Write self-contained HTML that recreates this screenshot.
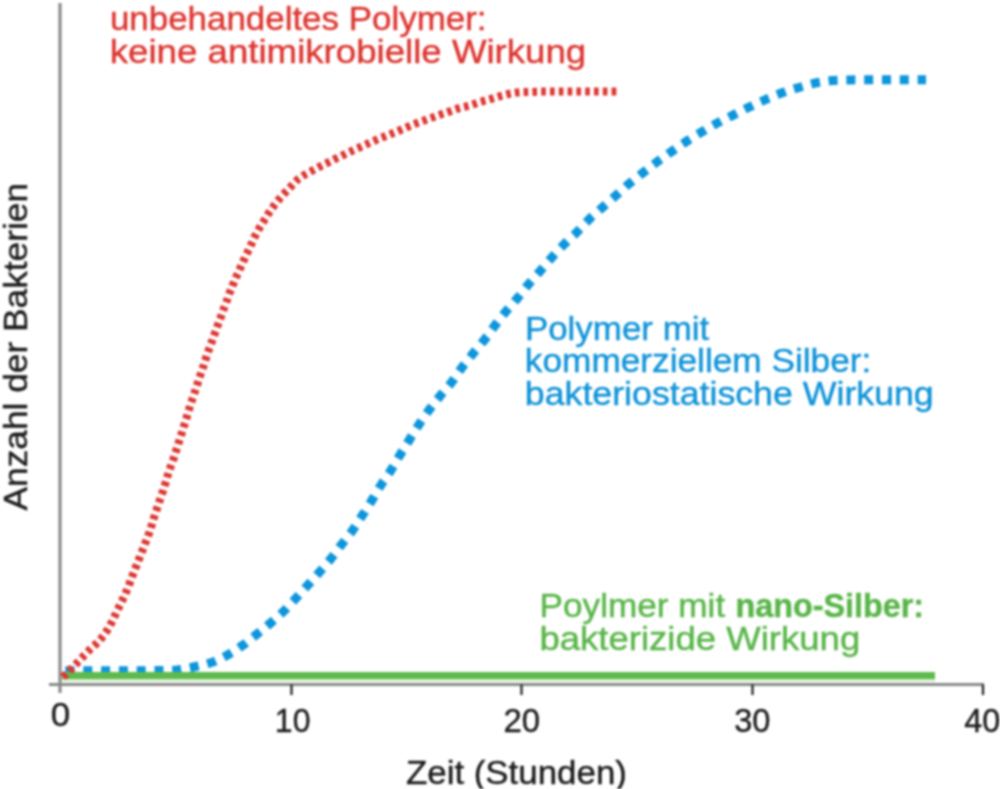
<!DOCTYPE html>
<html><head><meta charset="utf-8"><style>
html,body{margin:0;padding:0;background:#fff;width:1000px;height:789px;overflow:hidden}
svg{display:block}
#wrap{filter:blur(0.8px)}
text{font-family:"Liberation Sans",sans-serif}
</style></head><body><div id="wrap">
<svg width="1000" height="789" viewBox="0 0 1000 789">
<rect width="1000" height="789" fill="#fff"/>
<line x1="60" y1="3" x2="60" y2="693" stroke="#8a8a8a" stroke-width="3.2"/>
<line x1="49" y1="684.5" x2="984" y2="684.5" stroke="#8a8a8a" stroke-width="3.2"/>
<g stroke="#1c1c1c" stroke-width="2.2">
<line x1="291.5" y1="684.5" x2="291.5" y2="695"/>
<line x1="521.5" y1="684.5" x2="521.5" y2="695"/>
<line x1="752.5" y1="684.5" x2="752.5" y2="695"/>
<line x1="983" y1="684.5" x2="983" y2="695"/>
</g>
<path d="M63.5,670.8 C64.5,670.8 67.5,670.8 69.5,670.8 C71.5,670.8 73.5,670.8 75.5,670.8 C77.5,670.8 79.5,670.8 81.5,670.8 C83.5,670.8 85.5,670.8 87.5,670.8 C89.5,670.8 91.5,670.8 93.5,670.8 C95.5,670.8 97.5,670.8 99.5,670.8 C101.5,670.8 103.5,670.8 105.5,670.8 C107.5,670.8 109.5,670.8 111.5,670.8 C113.5,670.8 115.5,670.8 117.5,670.8 C119.5,670.8 121.5,670.8 123.5,670.8 C125.5,670.8 127.5,670.8 129.5,670.8 C131.5,670.7 133.5,670.7 135.5,670.7 C137.5,670.7 139.5,670.7 141.5,670.7 C143.5,670.7 145.5,670.7 147.5,670.6 C149.5,670.6 151.5,670.6 153.5,670.6 C155.5,670.6 157.5,670.6 159.5,670.6 C161.5,670.6 163.5,670.6 165.5,670.5 C167.5,670.5 169.5,670.6 171.5,670.5 C173.5,670.4 175.5,670.2 177.4,670.0 C179.4,669.7 181.4,669.3 183.4,669.0 C185.3,668.7 187.3,668.3 189.3,667.9 C191.2,667.5 193.2,667.2 195.2,666.7 C197.1,666.3 199.0,665.9 201.0,665.4 C202.9,664.9 204.9,664.5 206.8,664.0 C208.7,663.4 210.6,662.8 212.5,662.1 C214.4,661.4 216.2,660.6 218.0,659.8 C219.8,658.9 221.6,658.1 223.4,657.2 C225.2,656.3 227.0,655.3 228.7,654.3 C230.4,653.3 232.1,652.3 233.8,651.2 C235.5,650.1 237.2,649.1 238.8,648.0 C240.5,646.8 242.1,645.7 243.8,644.5 C245.4,643.4 246.9,642.1 248.5,640.9 C250.1,639.7 251.6,638.4 253.2,637.2 C254.8,635.9 256.3,634.7 257.9,633.4 C259.5,632.2 261.0,630.9 262.6,629.7 C264.1,628.4 265.7,627.2 267.2,625.9 C268.8,624.6 270.3,623.3 271.8,622.0 C273.4,620.7 274.8,619.4 276.3,618.1 C277.8,616.7 279.3,615.4 280.8,614.0 C282.2,612.7 283.7,611.3 285.1,609.9 C286.5,608.4 287.8,607.0 289.2,605.5 C290.6,604.0 291.9,602.6 293.3,601.1 C294.6,599.6 296.0,598.1 297.3,596.7 C298.7,595.2 300.0,593.7 301.4,592.2 C302.7,590.8 304.1,589.3 305.4,587.8 C306.8,586.3 308.1,584.9 309.4,583.4 C310.8,581.9 312.1,580.4 313.4,578.9 C314.8,577.4 316.1,575.9 317.4,574.4 C318.7,572.9 320.1,571.4 321.4,569.9 C322.7,568.4 324.0,566.9 325.3,565.4 C326.6,563.8 327.9,562.3 329.2,560.8 C330.5,559.2 331.7,557.7 332.9,556.1 C334.2,554.5 335.4,552.9 336.6,551.3 C337.8,549.7 338.9,548.1 340.1,546.5 C341.3,544.9 342.6,543.3 343.8,541.8 C345.0,540.2 346.3,538.6 347.5,537.0 C348.7,535.5 350.0,533.9 351.2,532.3 C352.4,530.7 353.5,529.1 354.6,527.4 C355.8,525.7 356.8,524.0 357.9,522.4 C359.0,520.7 360.1,519.0 361.1,517.3 C362.2,515.6 363.3,513.9 364.4,512.3 C365.4,510.6 366.5,508.9 367.6,507.2 C368.6,505.5 369.7,503.8 370.8,502.1 C371.8,500.4 372.8,498.7 373.9,497.0 C374.9,495.3 375.9,493.5 376.9,491.8 C377.9,490.1 378.9,488.3 380.0,486.6 C381.0,485.0 382.1,483.3 383.2,481.6 C384.4,480.0 385.5,478.3 386.7,476.7 C387.8,475.0 388.9,473.4 390.0,471.7 C391.1,470.0 392.1,468.3 393.2,466.6 C394.2,464.9 395.2,463.2 396.2,461.4 C397.2,459.7 398.2,458.0 399.2,456.3 C400.3,454.5 401.3,452.8 402.3,451.1 C403.4,449.4 404.4,447.7 405.5,446.0 C406.5,444.3 407.6,442.6 408.7,440.9 C409.7,439.2 410.8,437.5 411.8,435.8 C412.9,434.1 413.9,432.4 415.0,430.7 C416.1,429.0 417.1,427.3 418.2,425.7 C419.3,424.0 420.4,422.3 421.5,420.7 C422.7,419.0 423.8,417.4 424.9,415.8 C426.1,414.1 427.2,412.5 428.4,410.9 C429.6,409.2 430.8,407.6 432.0,406.1 C433.2,404.5 434.5,402.9 435.7,401.3 C437.0,399.8 438.2,398.2 439.5,396.7 C440.7,395.1 442.0,393.6 443.3,392.1 C444.6,390.6 446.0,389.1 447.3,387.5 C448.6,386.0 449.9,384.5 451.1,382.9 C452.3,381.4 453.5,379.8 454.7,378.1 C455.8,376.5 456.9,374.8 458.0,373.2 C459.1,371.5 460.3,369.9 461.4,368.2 C462.6,366.6 463.9,365.0 465.1,363.5 C466.3,361.9 467.6,360.3 468.8,358.8 C470.1,357.2 471.3,355.6 472.6,354.1 C473.8,352.5 475.1,351.0 476.4,349.5 C477.7,347.9 479.0,346.4 480.3,344.9 C481.5,343.4 482.8,341.8 484.1,340.3 C485.3,338.7 486.5,337.1 487.7,335.5 C488.9,333.9 490.0,332.2 491.2,330.6 C492.4,329.0 493.5,327.4 494.7,325.8 C495.9,324.2 497.1,322.6 498.4,321.0 C499.6,319.4 500.8,317.8 502.0,316.2 C503.3,314.7 504.5,313.1 505.8,311.6 C507.1,310.0 508.4,308.5 509.7,307.0 C511.0,305.5 512.4,304.1 513.7,302.6 C515.0,301.0 516.3,299.5 517.6,298.0 C518.9,296.5 520.1,294.9 521.4,293.3 C522.6,291.7 523.8,290.1 525.0,288.6 C526.3,287.0 527.5,285.4 528.8,283.9 C530.1,282.4 531.4,280.9 532.8,279.4 C534.1,277.9 535.4,276.4 536.8,274.9 C538.1,273.4 539.4,271.9 540.7,270.4 C542.0,268.9 543.3,267.4 544.6,265.9 C545.9,264.4 547.2,262.8 548.5,261.3 C549.8,259.8 551.1,258.3 552.5,256.8 C553.8,255.3 555.1,253.8 556.5,252.3 C557.8,250.8 559.2,249.4 560.5,247.9 C561.9,246.5 563.3,245.0 564.8,243.7 C566.2,242.3 567.7,240.9 569.1,239.5 C570.6,238.2 572.1,236.8 573.5,235.4 C575.0,234.1 576.4,232.7 577.8,231.2 C579.2,229.8 580.5,228.3 581.9,226.9 C583.3,225.4 584.6,223.9 586.0,222.5 C587.4,221.1 588.8,219.6 590.2,218.2 C591.7,216.9 593.2,215.6 594.7,214.2 C596.2,212.9 597.7,211.6 599.2,210.3 C600.7,208.9 602.2,207.6 603.7,206.3 C605.2,205.0 606.7,203.7 608.2,202.3 C609.7,201.0 611.2,199.7 612.7,198.4 C614.2,197.0 615.7,195.7 617.2,194.4 C618.6,193.0 620.1,191.7 621.6,190.3 C623.1,189.0 624.6,187.7 626.1,186.3 C627.6,185.0 629.1,183.8 630.7,182.5 C632.2,181.2 633.8,180.0 635.4,178.8 C636.9,177.5 638.5,176.3 640.1,175.0 C641.7,173.8 643.2,172.6 644.8,171.3 C646.4,170.1 648.0,168.9 649.5,167.7 C651.1,166.4 652.7,165.2 654.3,164.0 C655.9,162.8 657.5,161.6 659.1,160.4 C660.7,159.2 662.4,158.1 664.0,156.9 C665.6,155.8 667.2,154.6 668.9,153.4 C670.5,152.3 672.1,151.2 673.8,150.0 C675.4,148.9 677.1,147.7 678.7,146.6 C680.4,145.4 682.0,144.3 683.7,143.2 C685.3,142.1 687.0,141.0 688.7,139.9 C690.4,138.9 692.1,137.8 693.8,136.8 C695.5,135.7 697.2,134.7 698.9,133.7 C700.6,132.6 702.4,131.6 704.1,130.6 C705.8,129.6 707.5,128.6 709.2,127.5 C711.0,126.5 712.7,125.5 714.5,124.6 C716.2,123.6 718.0,122.7 719.8,121.8 C721.5,120.8 723.3,119.9 725.1,119.0 C726.9,118.2 728.7,117.3 730.5,116.4 C732.3,115.5 734.1,114.6 735.8,113.7 C737.6,112.8 739.4,111.9 741.2,111.0 C743.0,110.1 744.8,109.2 746.6,108.3 C748.4,107.5 750.2,106.6 752.0,105.8 C753.8,104.9 755.6,104.1 757.5,103.2 C759.3,102.4 761.1,101.6 762.9,100.8 C764.7,99.9 766.6,99.1 768.4,98.3 C770.2,97.6 772.1,96.8 773.9,96.0 C775.8,95.3 777.6,94.5 779.5,93.8 C781.4,93.1 783.3,92.4 785.1,91.8 C787.0,91.1 789.0,90.5 790.9,89.9 C792.8,89.3 794.7,88.7 796.6,88.2 C798.5,87.6 800.4,87.0 802.3,86.5 C804.3,85.9 806.2,85.4 808.1,84.8 C810.0,84.3 812.0,83.8 813.9,83.3 C815.9,82.9 817.8,82.6 819.8,82.2 C821.8,81.9 823.8,81.6 825.7,81.3 C827.7,81.1 829.7,80.8 831.7,80.6 C833.7,80.4 835.7,80.3 837.7,80.2 C839.7,80.1 841.7,80.1 843.7,80.0 C845.7,80.0 847.7,79.9 849.7,79.9 C851.7,79.8 853.7,79.8 855.7,79.8 C857.7,79.8 859.7,79.8 861.7,79.8 C863.7,79.8 865.7,79.8 867.7,79.8 C869.7,79.8 871.7,79.8 873.7,79.8 C875.7,79.8 877.7,79.8 879.7,79.8 C881.7,79.8 883.7,79.8 885.7,79.8 C887.7,79.8 889.7,79.8 891.7,79.8 C893.7,79.8 895.7,79.8 897.7,79.8 C899.7,79.8 901.7,79.8 903.7,79.8 C905.7,79.8 907.7,79.8 909.7,79.8 C911.7,79.8 913.7,79.8 915.6,79.8 C917.6,79.8 919.8,79.8 921.5,79.8 C923.2,79.8 925.3,79.8 926.0,79.8" fill="none" stroke="#0d96dc" stroke-width="9" stroke-dasharray="9 8.8" stroke-dashoffset="-2.0"/>
<line x1="62" y1="680.8" x2="935" y2="680.8" stroke="#d6f0cf" stroke-width="2"/>
<line x1="62" y1="675.6" x2="935" y2="675.6" stroke="#5fba4e" stroke-width="7.3"/>
<path d="M63.0,677.0 C63.7,676.3 66.0,674.3 67.4,673.0 C68.8,671.6 70.2,670.1 71.6,668.6 C73.0,667.2 74.3,665.7 75.7,664.3 C77.0,662.8 78.4,661.3 79.8,659.9 C81.2,658.4 82.6,657.0 84.0,655.6 C85.4,654.2 86.8,652.7 88.2,651.3 C89.6,649.9 91.0,648.5 92.5,647.1 C93.9,645.8 95.5,644.5 96.9,643.1 C98.3,641.7 99.7,640.2 101.0,638.7 C102.2,637.2 103.4,635.6 104.6,634.0 C105.8,632.4 106.9,630.7 108.0,629.0 C109.0,627.3 110.0,625.6 110.9,623.8 C111.9,622.1 112.7,620.2 113.6,618.4 C114.4,616.6 115.3,614.8 116.1,613.0 C117.0,611.2 117.9,609.4 118.7,607.6 C119.6,605.8 120.5,604.0 121.3,602.2 C122.2,600.4 123.1,598.6 124.0,596.8 C124.8,595.0 125.6,593.2 126.4,591.3 C127.2,589.5 127.9,587.6 128.7,585.8 C129.4,583.9 130.1,582.0 130.8,580.1 C131.5,578.3 132.2,576.4 132.9,574.5 C133.6,572.7 134.3,570.8 135.1,569.0 C135.8,567.1 136.6,565.2 137.3,563.4 C138.0,561.5 138.8,559.7 139.5,557.8 C140.2,555.9 140.9,554.1 141.7,552.2 C142.4,550.4 143.2,548.5 143.9,546.6 C144.6,544.8 145.3,542.9 146.1,541.0 C146.8,539.2 147.5,537.3 148.2,535.5 C149.0,533.6 149.7,531.7 150.3,529.9 C150.9,528.0 151.4,526.0 152.0,524.1 C152.5,522.2 153.1,520.3 153.7,518.4 C154.3,516.4 155.0,514.6 155.6,512.7 C156.3,510.8 156.9,508.9 157.5,507.0 C158.2,505.1 158.8,503.2 159.4,501.3 C160.1,499.4 160.8,497.5 161.4,495.6 C162.1,493.8 162.7,491.9 163.3,489.9 C163.9,488.0 164.5,486.1 165.1,484.2 C165.7,482.3 166.3,480.4 166.9,478.5 C167.4,476.6 167.9,474.6 168.5,472.7 C169.1,470.8 169.8,469.0 170.5,467.1 C171.1,465.2 171.9,463.4 172.6,461.5 C173.3,459.6 173.9,457.7 174.5,455.8 C175.1,453.9 175.7,452.0 176.3,450.1 C176.9,448.2 177.6,446.3 178.2,444.4 C178.8,442.5 179.4,440.6 180.0,438.6 C180.6,436.7 181.2,434.8 181.8,432.9 C182.4,431.0 183.0,429.1 183.6,427.2 C184.2,425.3 184.8,423.4 185.4,421.5 C186.0,419.6 186.6,417.7 187.1,415.7 C187.7,413.8 188.2,411.9 188.8,410.0 C189.4,408.1 190.0,406.1 190.6,404.2 C191.2,402.4 191.9,400.5 192.5,398.6 C193.2,396.7 193.9,394.8 194.5,392.9 C195.1,391.0 195.8,389.1 196.4,387.2 C197.0,385.3 197.6,383.4 198.2,381.5 C198.8,379.6 199.4,377.7 200.1,375.8 C200.7,373.9 201.4,372.0 202.1,370.1 C202.7,368.2 203.4,366.3 204.0,364.4 C204.6,362.6 205.2,360.6 205.8,358.7 C206.4,356.8 207.0,354.9 207.7,353.0 C208.3,351.1 209.0,349.3 209.7,347.4 C210.3,345.5 211.1,343.6 211.8,341.8 C212.4,339.9 213.1,338.0 213.8,336.1 C214.5,334.3 215.2,332.4 215.9,330.5 C216.6,328.6 217.2,326.7 217.9,324.9 C218.6,323.0 219.3,321.1 220.0,319.2 C220.7,317.3 221.4,315.5 222.1,313.6 C222.7,311.7 223.4,309.8 224.1,307.9 C224.8,306.1 225.5,304.2 226.2,302.3 C226.9,300.5 227.6,298.6 228.2,296.7 C228.9,294.8 229.6,292.9 230.3,291.1 C231.1,289.2 231.9,287.4 232.6,285.5 C233.4,283.7 234.1,281.8 234.9,280.0 C235.7,278.1 236.5,276.3 237.3,274.5 C238.2,272.7 239.0,270.9 239.8,269.0 C240.7,267.2 241.4,265.4 242.2,263.6 C243.1,261.7 243.9,259.9 244.7,258.1 C245.5,256.3 246.4,254.5 247.3,252.7 C248.2,250.9 249.0,249.1 249.9,247.3 C250.7,245.4 251.6,243.6 252.4,241.8 C253.2,240.0 254.0,238.2 254.9,236.4 C255.8,234.6 256.7,232.8 257.7,231.0 C258.6,229.3 259.7,227.6 260.7,225.9 C261.7,224.2 262.8,222.5 263.9,220.8 C264.9,219.1 266.0,217.4 267.1,215.7 C268.1,214.0 269.2,212.3 270.3,210.7 C271.4,209.0 272.6,207.4 273.8,205.8 C275.0,204.2 276.2,202.6 277.5,201.1 C278.8,199.5 280.1,198.0 281.4,196.5 C282.7,195.0 284.1,193.6 285.5,192.2 C286.9,190.7 288.4,189.3 289.7,187.9 C291.1,186.5 292.4,184.9 293.7,183.5 C295.1,182.0 296.5,180.6 298.0,179.3 C299.5,178.1 301.2,177.0 302.9,175.9 C304.5,174.8 306.3,173.9 308.0,172.9 C309.8,171.9 311.6,171.0 313.3,170.1 C315.1,169.1 316.8,168.2 318.6,167.2 C320.4,166.3 322.2,165.4 324.0,164.5 C325.8,163.6 327.6,162.8 329.4,161.9 C331.1,161.0 332.9,160.1 334.7,159.2 C336.5,158.3 338.3,157.4 340.1,156.6 C341.9,155.7 343.7,154.8 345.5,153.9 C347.3,153.0 349.1,152.2 350.9,151.3 C352.7,150.5 354.5,149.6 356.3,148.8 C358.2,148.0 360.0,147.2 361.8,146.3 C363.6,145.5 365.5,144.7 367.3,143.9 C369.1,143.1 370.9,142.2 372.8,141.4 C374.6,140.6 376.4,139.8 378.2,139.0 C380.1,138.2 381.9,137.5 383.8,136.8 C385.7,136.0 387.5,135.3 389.4,134.6 C391.3,133.8 393.1,133.1 395.0,132.3 C396.8,131.6 398.6,130.8 400.5,130.0 C402.3,129.2 404.1,128.4 406.0,127.6 C407.8,126.8 409.7,126.1 411.5,125.3 C413.4,124.6 415.3,123.8 417.1,123.1 C419.0,122.4 420.8,121.7 422.7,121.0 C424.6,120.3 426.5,119.6 428.4,118.9 C430.2,118.2 432.1,117.6 434.0,117.0 C435.9,116.3 437.8,115.6 439.7,114.9 C441.5,114.2 443.4,113.5 445.3,112.9 C447.2,112.2 449.1,111.6 451.0,110.9 C452.9,110.2 454.7,109.5 456.6,108.9 C458.5,108.3 460.4,107.7 462.4,107.2 C464.3,106.7 466.3,106.4 468.2,105.9 C470.1,105.4 472.0,104.7 473.9,104.1 C475.7,103.5 477.6,102.7 479.5,102.1 C481.4,101.5 483.3,101.1 485.2,100.5 C487.2,100.0 489.1,99.5 491.0,98.9 C493.0,98.4 494.9,97.8 496.8,97.2 C498.7,96.6 500.6,96.0 502.5,95.5 C504.4,94.9 506.4,94.4 508.3,94.0 C510.3,93.6 512.2,93.2 514.2,92.9 C516.2,92.6 518.2,92.4 520.2,92.2 C522.1,92.1 524.1,92.1 526.1,92.0 C528.1,91.9 530.1,91.9 532.1,91.9 C534.1,91.8 536.1,91.7 538.1,91.7 C540.1,91.6 542.1,91.6 544.1,91.6 C546.1,91.6 548.1,91.6 550.1,91.6 C552.1,91.6 554.1,91.6 556.1,91.6 C558.1,91.6 560.1,91.6 562.1,91.5 C564.1,91.5 566.1,91.5 568.1,91.5 C570.1,91.5 572.1,91.5 574.1,91.5 C576.1,91.5 578.1,91.5 580.1,91.5 C582.1,91.5 584.1,91.5 586.1,91.5 C588.1,91.5 590.1,91.5 592.1,91.5 C594.1,91.5 596.1,91.5 598.1,91.5 C600.1,91.5 602.1,91.5 604.1,91.5 C606.1,91.5 608.1,91.5 610.1,91.5 C612.1,91.5 614.7,91.5 616.0,91.5 C617.4,91.5 617.7,91.5 618.0,91.5" fill="none" stroke="#dd3530" stroke-width="8" stroke-dasharray="4.6 4.2" stroke-dashoffset="0"/>
<text transform="translate(109.88,30.00) scale(1.0584,1)" font-size="33" fill="#dd3530" stroke="#dd3530" stroke-width="0.4">unbehandeltes Polymer:</text>
<text transform="translate(109.78,63.30) scale(1.1106,1)" font-size="33" fill="#dd3530" stroke="#dd3530" stroke-width="0.4">keine antimikrobielle Wirkung</text>
<text transform="translate(524.88,339.50) scale(1.0581,1)" font-size="33" fill="#0f93d8" stroke="#0f93d8" stroke-width="0.4">Polymer mit</text>
<text transform="translate(524.86,372.20) scale(1.0675,1)" font-size="33" fill="#0f93d8" stroke="#0f93d8" stroke-width="0.4">kommerziellem Silber:</text>
<text transform="translate(524.83,405.40) scale(1.0829,1)" font-size="33" fill="#0f93d8" stroke="#0f93d8" stroke-width="0.4">bakteriostatische Wirkung</text>
<text transform="translate(539.57,617.00) scale(1.0657,1)" font-size="33" fill="#58b548" stroke="#58b548" stroke-width="0.4">Poylmer mit</text>
<text transform="translate(735.54,617.00) scale(0.9793,1)" font-size="33" fill="#58b548" stroke="#58b548" stroke-width="0.4" font-weight="bold">nano-Silber:</text>
<text transform="translate(539.49,650.40) scale(1.1073,1)" font-size="33" fill="#58b548" stroke="#58b548" stroke-width="0.4">bakterizide Wirkung</text>
<text transform="translate(26.90,510.50) rotate(-90) scale(1.0698,1)" font-size="33" fill="#1c1c1c" stroke="#1c1c1c" stroke-width="0.4">Anzahl der Bakterien</text>
<text transform="translate(405.94,783.60) scale(1.0573,1)" font-size="33" fill="#1c1c1c" stroke="#1c1c1c" stroke-width="0.4">Zeit (Stunden)</text>
<text transform="translate(50.67,726.40) scale(1.0294,1)" font-size="34" fill="#1c1c1c" stroke="#1c1c1c" stroke-width="0.4">0</text>
<text transform="translate(274.81,732.10) scale(0.9429,1)" font-size="34" fill="#1c1c1c" stroke="#1c1c1c" stroke-width="0.4">10</text>
<text transform="translate(503.53,731.80) scale(0.9694,1)" font-size="34" fill="#1c1c1c" stroke="#1c1c1c" stroke-width="0.4">20</text>
<text transform="translate(734.24,732.30) scale(0.9583,1)" font-size="34" fill="#1c1c1c" stroke="#1c1c1c" stroke-width="0.4">30</text>
<text transform="translate(964.30,732.20) scale(0.9514,1)" font-size="34" fill="#1c1c1c" stroke="#1c1c1c" stroke-width="0.4">40</text>
</svg>
</div></body></html>
